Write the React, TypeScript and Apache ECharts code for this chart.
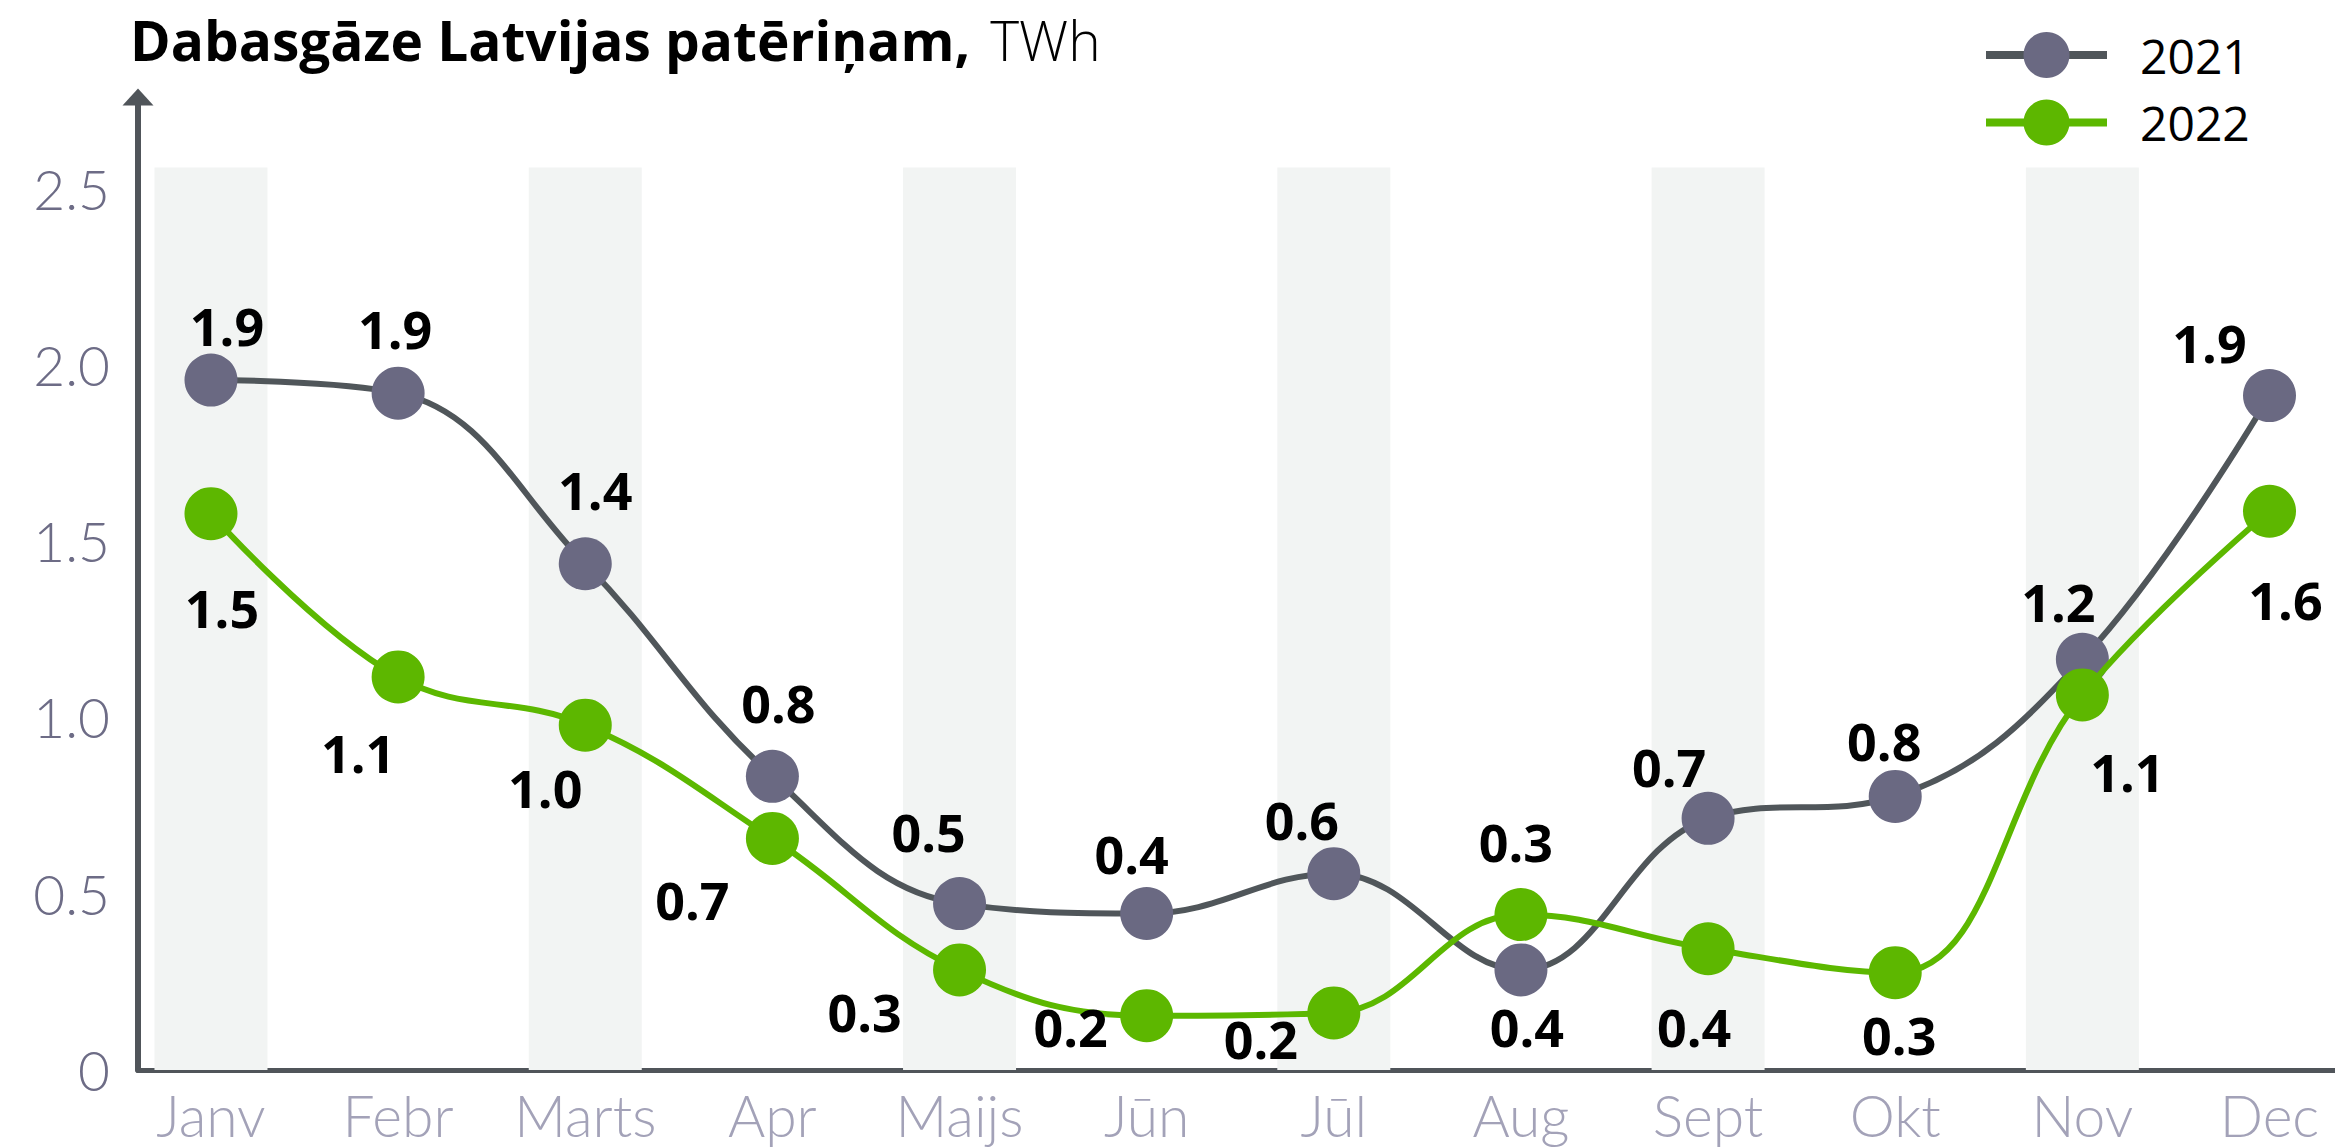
import React, { useEffect, useRef } from "react";
import * as echarts from "echarts";

const categories = ["Janv", "Febr", "Marts", "Apr", "Maijs", "Jūn", "Jūl", "Aug", "Sept", "Okt", "Nov", "Dec"];
const values2021 = [1.957, 1.92, 1.436, 0.833, 0.472, 0.444, 0.557, 0.284, 0.714, 0.776, 1.165, 1.913];
const values2022 = [1.578, 1.115, 0.978, 0.657, 0.284, 0.154, 0.162, 0.441, 0.344, 0.276, 1.064, 1.585];
const labels2021 = ["1.9", "1.9", "1.4", "0.8", "0.5", "0.4", "0.6", "0.4", "0.7", "0.8", "1.2", "1.9"];
const labels2022 = ["1.5", "1.1", "1.0", "0.7", "0.3", "0.2", "0.2", "0.3", "0.4", "0.3", "1.1", "1.6"];
const yTicks = [0, 0.5, 1, 1.5, 2, 2.5];
const bandMonths = ["Janv", "Marts", "Maijs", "Jūl", "Sept", "Nov"];
const bandTop = 2.56;

// label placement (layout only)
const offsets2021 = [[16, -55], [-3, -65], [10, -74], [6, -74], [-31, -72], [-15, -60], [-32, -54], [6, 57], [-39, -52], [-11, -56], [-24, -58], [-60, -53]];
const offsets2022 = [[11, 94], [-40, 76], [-40, 62], [-80, 61], [-95, 42], [-76, 11], [-73, 26], [-5, -73], [-14, 78], [4, 62], [45, 77], [16, 88]];

const labelFont = { fontFamily: "Open Sans", fontWeight: "bold" as const, fontSize: 52, color: "#000" };

export default function App() {
  const ref = useRef<HTMLDivElement>(null);
  useEffect(() => {
    if (!ref.current) return;
    const chart = echarts.init(ref.current, undefined, { renderer: "svg" });
    const mk = (vals: number[], offs: number[][]) =>
      vals.map((v, i) => ({ value: [i, v], label: { offset: offs[i] } }));
    chart.setOption({
      animation: false,
      backgroundColor: "#fff",
      title: {
        text: "{b|Dabasgāze Latvijas patēriņam,}{l|TWh}",
        left: 130,
        top: 14,
        padding: 0,
        textStyle: {
          rich: {
            b: { fontFamily: "Open Sans", fontWeight: "bold", fontSize: 55, color: "#000", lineHeight: 50 },
            l: { fontFamily: "Open Sans", fontWeight: 300, fontSize: 55, color: "#000", lineHeight: 50, padding: [0, 0, 0, 20] },
          },
        },
      },
      legend: {
        data: ["2021", "2022"],
        orient: "vertical",
        left: 1977,
        top: 26,
        itemWidth: 121,
        itemHeight: 57.5,
        itemGap: 19.5,
        lineStyle: { width: 8 },
        textStyle: { fontFamily: "Open Sans", fontSize: 48, color: "#000", padding: [0, 0, 0, 28] },
      },
      grid: { left: 138, right: 0, top: 97, bottom: 78, containLabel: false },
      xAxis: {
        type: "value",
        min: -0.39,
        max: 11.35,
        splitLine: { show: false },
        axisTick: { show: false },
        axisLine: { show: true, onZero: false, lineStyle: { color: "#50555a", width: 5 } },
        axisLabel: {
          customValues: categories.map((_, i) => i),
          formatter: (v: number) => categories[Math.round(v)] ?? "",
          fontFamily: "Lato",
          fontWeight: 300,
          fontSize: 57,
          color: "#a3a2b8",
          margin: 16,
        },
      },
      yAxis: {
        type: "value",
        min: 0,
        max: 2.76,
        splitLine: { show: false },
        axisTick: { show: false },
        axisLine: {
          show: true,
          onZero: false,
          symbol: ["none", "triangle"],
          symbolSize: [31, 17],
          lineStyle: { color: "#50555a", width: 6 },
        },
        axisLabel: {
          customValues: yTicks,
          formatter: (v: number) => (v === 0 ? "0" : v.toFixed(1)),
          fontFamily: "Lato",
          fontWeight: 300,
          fontSize: 55,
          color: "#6d6c86",
          margin: 28,
        },
      },
      series: [
        {
          name: "bands",
          type: "bar",
          silent: true,
          barWidth: 113,
          itemStyle: { color: "#f2f4f3" },
          data: bandMonths.map((m) => [categories.indexOf(m), bandTop]),
          z: 1,
        },
        {
          name: "2021",
          type: "line",
          smooth: 0.4,
          symbol: "circle",
          symbolSize: 53,
          lineStyle: { color: "#50565a", width: 6 },
          itemStyle: { color: "#6a6982" },
          label: {
            show: true,
            position: "inside",
            formatter: (p: any) => labels2021[p.dataIndex],
            ...labelFont,
          },
          data: mk(values2021, offsets2021),
          z: 3,
        },
        {
          name: "2022",
          type: "line",
          smooth: 0.4,
          symbol: "circle",
          symbolSize: 53,
          lineStyle: { color: "#5cb800", width: 6 },
          itemStyle: { color: "#5db700" },
          label: {
            show: true,
            position: "inside",
            formatter: (p: any) => labels2022[p.dataIndex],
            ...labelFont,
          },
          data: mk(values2022, offsets2022),
          z: 4,
        },
      ],
    });
    return () => chart.dispose();
  }, []);
  return (
    <div
      ref={ref}
      style={{ position: "fixed", left: 0, top: 0, width: 2335, height: 1148, background: "#fff" }}
    />
  );
}
